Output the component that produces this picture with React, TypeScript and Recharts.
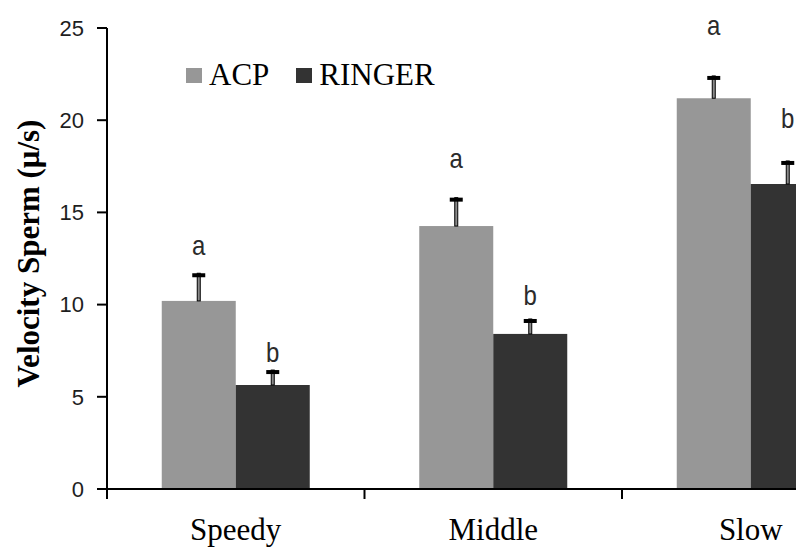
import React from 'react';
import { BarChart, Bar, XAxis, YAxis, Legend } from 'recharts';

// Mean sperm velocity (µ/s) per motility class
const groups = ['Speedy', 'Middle', 'Slow'];
const acpVelocity = [10.2, 14.26, 21.19];
const ringerVelocity = [5.64, 8.41, 16.54];
// Upper error (standard error) for each mean
const acpError = [1.5, 1.54, 1.21];
const ringerError = [0.81, 0.81, 1.25];
// Significance letters and the velocity level their baseline sits at
const acpLetters = ['a', 'a', 'a'];
const ringerLetters = ['b', 'b', 'b'];
const acpLetterLevel = [12.69, 17.41, 24.62];
const ringerLetterLevel = [6.89, 9.98, 19.58];
const yTicks = [0, 5, 10, 15, 20, 25];

const ACP_COLOR = '#979797';
const RINGER_COLOR = '#333333';

const data = groups.map((group, i) => ({
  group,
  acp: acpVelocity[i],
  acpErr: acpError[i],
  acpSig: acpLetters[i],
  acpSigAt: acpLetterLevel[i],
  ringer: ringerVelocity[i],
  ringerErr: ringerError[i],
  ringerSig: ringerLetters[i],
  ringerSigAt: ringerLetterLevel[i],
}));

// Bar with an upward-only error whisker and a significance letter above it
const makeBarShape =
  (valueKey: string, errKey: string, sigKey: string, sigAtKey: string) =>
  (props: any) => {
    const { x, y, width, height, fill, payload } = props;
    const value = payload[valueKey];
    const pxPerUnit = value ? height / value : 0;
    const base = y + height;
    const cx = x + width / 2;
    const errTop = y - payload[errKey] * pxPerUnit;
    const sigY = base - payload[sigAtKey] * pxPerUnit;
    return (
      <g>
        <rect x={x} y={y} width={width} height={height} fill={fill} />
        <rect
          x={cx - 1.5}
          y={errTop}
          width={3}
          height={Math.max(0, y - errTop)}
          fill="#8a8a8a"
          stroke="#000"
          strokeWidth={1}
        />
        <rect x={cx - 6.5} y={errTop} width={13} height={4} fill="#000" />
        <text
          x={cx}
          y={sigY}
          textAnchor="middle"
          fontFamily='"Liberation Sans", Arial, sans-serif'
          fontSize={24}
          fill="#2b2b2b"
          transform={`translate(${cx}, ${sigY}) scale(1, 1.15) translate(${-cx}, ${-sigY})`}
        >
          {payload[sigKey]}
        </text>
      </g>
    );
  };

const acpShape = makeBarShape('acp', 'acpErr', 'acpSig', 'acpSigAt');
const ringerShape = makeBarShape('ringer', 'ringerErr', 'ringerSig', 'ringerSigAt');

// Category label with a boundary tick on the left edge of each band
const CategoryTick = (props: any) => {
  const { x, y, payload, width, visibleTicksCount } = props;
  const half =
    typeof payload?.offset === 'number' && payload.offset > 0
      ? payload.offset
      : width / (visibleTicksCount || 1) / 2;
  return (
    <g>
      <line x1={x - half} x2={x - half} y1={y} y2={y + 10} stroke="#000" strokeWidth={2} />
      <text
        x={x}
        y={y + 51}
        textAnchor="middle"
        fontFamily='"Liberation Serif", "Times New Roman", serif'
        fontSize={31}
        fill="#000"
      >
        {payload.value}
      </text>
    </g>
  );
};

const YTitle = (props: any) => {
  const vb = props.viewBox || { x: 0, y: 0, width: 0, height: 0 };
  const cx = vb.x + 28;
  const cy = vb.y + vb.height / 2 - 5;
  return (
    <text
      x={cx}
      y={cy}
      transform={`rotate(-90, ${cx}, ${cy})`}
      textAnchor="middle"
      dominantBaseline="central"
      fontFamily='"Liberation Serif", "Times New Roman", serif'
      fontWeight="bold"
      fontSize={31}
      fill="#000"
    >
      Velocity Sperm (μ/s)
    </text>
  );
};

const LegendContent = (props: any) => {
  const payload = props.payload || [];
  return (
    <div
      style={{
        display: 'flex',
        alignItems: 'center',
        fontFamily: '"Liberation Serif", "Times New Roman", serif',
        fontSize: 31,
        lineHeight: '34px',
        color: '#000',
        whiteSpace: 'nowrap',
      }}
    >
      {payload.map((entry: any, i: number) => (
        <div
          key={i}
          style={{ display: 'flex', alignItems: 'center', marginRight: i === 0 ? 27 : 0 }}
        >
          <span
            style={{
              display: 'inline-block',
              width: 16,
              height: 15,
              background: entry.color,
              marginRight: 7,
            }}
          />
          <span>{entry.value}</span>
        </div>
      ))}
    </div>
  );
};

export default function App() {
  return (
    <div
      style={{
        position: 'fixed',
        left: 0,
        top: 0,
        width: 796,
        height: 552,
        overflow: 'hidden',
        background: '#fff',
      }}
    >
      <BarChart
        width={900}
        height={552}
        data={data}
        margin={{ top: 28, right: 20.5, left: 0, bottom: 0 }}
        barCategoryGap={54.75}
        barGap={0}
      >
        <XAxis
          dataKey="group"
          height={63}
          axisLine={{ stroke: '#000', strokeWidth: 2 }}
          tickLine={false}
          tickSize={0}
          tickMargin={0}
          tick={<CategoryTick />}
          interval={0}
        />
        <YAxis
          width={107}
          domain={[0, 25]}
          ticks={yTicks}
          interval={0}
          axisLine={{ stroke: '#000', strokeWidth: 2 }}
          tickLine={{ stroke: '#000', strokeWidth: 2 }}
          tickSize={10}
          tickMargin={13}
          tick={{
            fontFamily: '"Liberation Sans", Arial, sans-serif',
            fontSize: 22,
            fill: '#1e1e1e',
          }}
          label={{ content: (p: any) => <YTitle viewBox={p.viewBox} /> }}
        />
        <Legend
          layout="horizontal"
          verticalAlign="middle"
          align="center"
          wrapperStyle={{ left: 186, top: 58, width: 'auto', height: 'auto' }}
          content={<LegendContent />}
        />
        <Bar
          dataKey="acp"
          name="ACP"
          fill={ACP_COLOR}
          shape={acpShape}
          isAnimationActive={false}
        />
        <Bar
          dataKey="ringer"
          name="RINGER"
          fill={RINGER_COLOR}
          shape={ringerShape}
          isAnimationActive={false}
        />
      </BarChart>
    </div>
  );
}
